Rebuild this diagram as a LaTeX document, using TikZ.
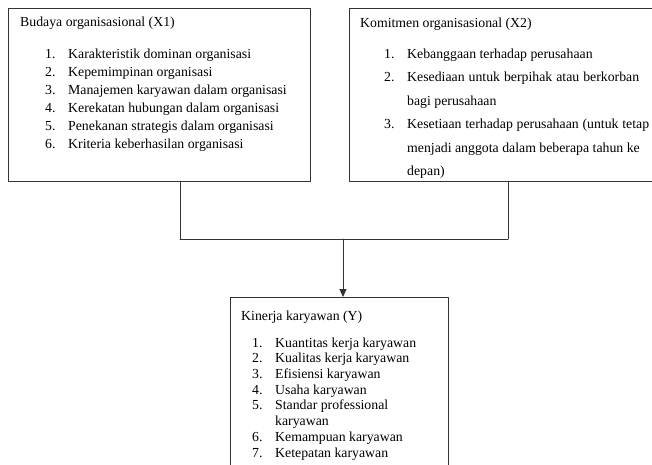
\documentclass[tikz,border=0pt]{standalone}
\usepackage{amsmath}
\usepackage{tikz}
\usepackage{tkz-euclide}
\usepackage{fontspec}
\setmainfont{Liberation Serif}
\usetikzlibrary{calc}
\usetikzlibrary{arrows.meta}
\newcommand{\nomor}[1]{\makebox[23pt][l]{#1}}
\tikzset{txt/.style={anchor=base west,inner sep=0pt,font=\fontsize{13.8}{15}\selectfont},
         kotak/.style={line width=0.9pt,draw=black!80}}

\begin{document}
\begin{tikzpicture}[x=1pt,y=-1pt]
                    \useasboundingbox (0,0) rectangle (652,464);
                    \clip (0,0) rectangle (652,464);

                    % kotak X1
                    \tkzDefPoint(8,8){A1}
                    \tkzDefPoint(310,8){A2}
                    \tkzDefPoint(310,181){A3}
                    \tkzDefPoint(8,181){A4}
                    \tkzDrawPolygon[kotak](A1,A2,A3,A4)

                    % kotak X2
                    \tkzDefPoint(349,8){B1}
                    \tkzDefPoint(662,8){B2}
                    \tkzDefPoint(662,181){B3}
                    \tkzDefPoint(349,181){B4}
                    \tkzDrawPolygon[kotak](B1,B2,B3,B4)

                    % kotak Y
                    \tkzDefPoint(230,297){C1}
                    \tkzDefPoint(448,297){C2}
                    \tkzDefPoint(448,472){C3}
                    \tkzDefPoint(230,472){C4}
                    \tkzDrawPolygon[kotak](C1,C2,C3,C4)

                    % garis penghubung
                    \tkzDefPoint(180,181){P1}
                    \tkzDefPoint(180,239){P2}
                    \tkzDefPoint(508,239){P3}
                    \tkzDefPoint(508,181){P4}
                    \tkzDefPoint(343,239){Q1}
                    \tkzDefPoint(343,297){Q2}
                    \tkzDrawSegments[kotak](P1,P2 P2,P3 P3,P4)
                    \tkzDrawSegment[kotak,-{Triangle[length=8pt,width=7pt]}](Q1,Q2)

                    \node[txt] (jX1) at (20,26) {Budaya organisasional (X1)};
                    \node[txt] (x1a) at (45,58) {\nomor{1.}Karakteristik dominan organisasi};
                    \node[txt] (x1b) at (45,76) {\nomor{2.}Kepemimpinan organisasi};
                    \node[txt] (x1c) at (45,94) {\nomor{3.}Manajemen karyawan dalam organisasi};
                    \node[txt] (x1d) at (45,112) {\nomor{4.}Kerekatan hubungan dalam organisasi};
                    \node[txt] (x1e) at (45,130) {\nomor{5.}Penekanan strategis dalam organisasi};
                    \node[txt] (x1f) at (45,148) {\nomor{6.}Kriteria keberhasilan organisasi};

                    \node[txt] (jX2) at (360,27) {Komitmen organisasional (X2)};
                    \node[txt] (x2a) at (384,58) {\nomor{1.}Kebanggaan terhadap perusahaan};
                    \node[txt] (x2b) at (384,81.5) {\nomor{2.}\makebox[232pt][s]{Kesediaan untuk berpihak atau berkorban}};
                    \node[txt] (x2c) at (407,105) {bagi perusahaan};
                    \node[txt] (x2d) at (384,128.5) {\nomor{3.}\makebox[242pt][s]{Kesetiaan terhadap perusahaan (untuk tetap}};
                    \node[txt] (x2e) at (407,152) {menjadi anggota dalam beberapa tahun ke};
                    \node[txt] (x2f) at (407,175.5) {depan)};

                    \node[txt] (jY) at (241,320) {Kinerja karyawan (Y)};
                    \node[txt] (ya) at (252,347) {\nomor{1.}Kuantitas kerja karyawan};
                    \node[txt] (yb) at (252,362.7) {\nomor{2.}Kualitas kerja karyawan};
                    \node[txt] (yc) at (252,378.4) {\nomor{3.}Efisiensi karyawan};
                    \node[txt] (yd) at (252,394) {\nomor{4.}Usaha karyawan};
                    \node[txt] (ye) at (252,409.8) {\nomor{5.}Standar professional};
                    \node[txt] (yf) at (275,425.5) {karyawan};
                    \node[txt] (yg) at (252,441) {\nomor{6.}Kemampuan karyawan};
                    \node[txt] (yh) at (252,457) {\nomor{7.}Ketepatan karyawan};
                \end{tikzpicture}
\end{document}
